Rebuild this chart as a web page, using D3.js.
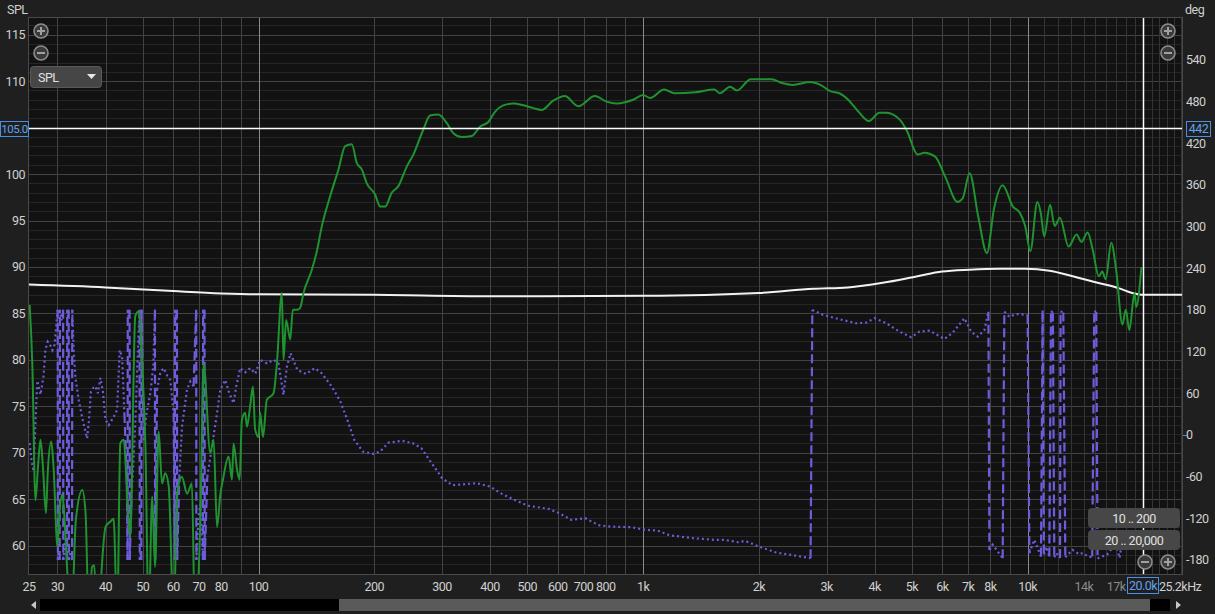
<!DOCTYPE html>
<html><head><meta charset="utf-8">
<script src="https://cdn.jsdelivr.net/npm/d3@7"></script>
<style>
html,body{margin:0;padding:0;background:#1f1f1f;overflow:hidden}
svg{display:block}
</style></head><body>
<svg id="c" width="1215" height="614"></svg>
<script>
// ---------- data ----------
const splTicks = [60,65,70,75,80,85,90,95,100,110,115];
const degTicks = [-180,-120,-60,0,60,120,180,240,300,360,420,480,540];
const freqTickVals = [25.3,30,40,50,60,70,80,100,200,300,400,500,600,700,800,1000,2000,3000,4000,5000,6000,7000,8000,10000,14000,17000];
const freqTickLabels = ["25","30","40","50","60","70","80","100","200","300","400","500","600","700","800","1k","2k","3k","4k","5k","6k","7k","8k","10k","14k","17k"];
const dimLabels = ["14k","17k"];

const splFreq = [25.4,25.8,26.3,26.7,27.1,27.5,28.0,28.3,28.9,29.3,30.0,30.4,30.9,31.3,31.8,32.5,33.5,34.8,35.5,36.2,36.9,37.4,38.0,40.0,41.2,42.0,42.9,43.7,44.6,45.7,46.4,47.8,48.8,49.8,50.8,51.8,52.9,53.8,55.0,56.1,57.2,58.4,60.2,61.4,63.2,65.2,67.1,68.3,70.5,72.0,74.9,76.4,78.0,79.6,80.8,83.6,85.3,86.1,87.9,89.3,90.5,92.3,93.3,95.1,96.7,98.0,100,101,102.7,105.1,109.4,111.6,115.0,116.1,118.0,120.9,122.8,125.8,128.3,130.9,137.6,141.8,146.1,153.5,161.4,168.0,174.8,180.1,185.6,191.2,201.0,207.1,213.4,222.1,231.0,242.9,252.7,268.3,279.2,293.5,308.6,321.0,337.5,358.4,376.6,395.8,411.9,432.9,459.6,487.9,518.0,544.6,583.8,626.1,678.0,749.2,803.5,853.0,942.0,1000,1043,1134,1207,1367,1532,1582,1684,1754,1906,2160,2299,2448,2716,2889,3077,3240,3414,3634,3867,4115,4291,4663,4859,5174,5392,5741,6108,6571,6779,7065,7441,7839,8170,8608,9159,9550,9852,10163,10597,10821,11042,11439,11758,12130,12778,13403,13793,14323,14775,15306,15630,15961,16496,16986,17640,18002,18383,18963,19157,19762];
const splDb = [85.9,79.7,64.9,68.5,71.4,68.5,63.5,67.8,71.2,68.5,59.9,63.8,65.5,62.8,57.4,50,62.8,66.0,63.5,52,57.7,57.9,52,62.0,62.6,62.9,52,71.0,71.4,64.2,61.0,84.7,85.2,79.6,70.7,52,65.3,57.7,72.3,66.7,67.8,66.4,52,65.6,67.4,65.6,66.7,52,62,79.6,70.0,71.4,62.0,65.6,67.1,69.6,67.1,71.0,68.2,67.1,73.5,74.3,72.8,75.0,77.1,72.5,71.7,74.3,71.7,75.7,76.4,79.6,87.2,80.0,84.3,82.2,85.4,85.4,85.6,87.2,89.7,91.7,94.4,97.6,100.5,103.0,103.2,101.2,100.5,99.0,97.8,96.5,96.5,98.0,98.7,100.8,102.1,104.8,106.3,106.4,105.5,104.4,104.0,104.1,105.1,105.6,106.7,107.4,107.6,107.4,107.1,106.9,107.9,108.4,107.3,108.4,107.8,107.6,108.0,108.5,108.2,109.1,108.7,108.8,109.1,108.7,109.4,109.0,110.2,110.2,109.8,109.6,109.9,109.6,108.9,108.7,108.0,106.7,105.7,106.6,106.6,105.8,104.6,102.1,102.3,101.9,99.7,97.0,97.4,100.1,95.4,91.5,96.2,98.8,96.5,95.8,94.4,91.7,97.0,95.8,93.3,96.7,94.4,95.3,92.2,93.5,92.7,93.7,91.8,89.0,89.5,88.7,92.6,89.7,83.8,85.4,83.2,87.2,85.7,90.0];

const refFreq = [25.3,40,60,80,100,200,400,1000,2000,2770,3410,4200,5170,5990,7060,8500,9850,11400,13100,15200,17300,18700,20000,25200];
const refDb = [88.1,87.8,87.4,87.15,87.05,87.0,86.85,86.9,87.2,87.65,87.8,88.3,89.0,89.5,89.7,89.8,89.8,89.6,89.0,88.3,87.7,87.2,87.0,87.0];

const phaseFreq = [25.4,25.7,26.0,26.2,26.4,26.6,26.9,27.1,27.3,27.6,27.9,28.3,28.8,29.1,29.5,29.7,30.04,30.08,30.24,30.40,30.44,30.73,31.03,31.07,31.42,31.77,31.81,31.95,32.08,32.12,32.43,32.74,32.78,33.07,33.41,34.08,34.78,35.47,35.83,36.22,36.66,37.21,37.66,38.22,38.80,39.39,39.98,40.77,42.01,42.87,43.55,44.18,44.79,45.46,45.66,45.71,45.96,46.20,46.26,46.71,47.27,47.83,48.41,49.05,49.11,49.35,49.58,49.64,50.27,51.09,52.32,53.27,53.78,53.84,54.46,55.55,56.66,57.92,58.97,60.15,60.58,60.65,61.05,61.35,61.42,62.24,63.25,65.17,66.47,67.79,68.85,68.93,69.72,70.56,71.67,71.76,72.06,72.36,72.45,73.58,75.68,77.97,79.53,81.94,83.93,86.11,87.51,89.63,92.35,95.16,98.05,101.0,105.2,109.4,112.7,116.1,118.5,121.1,126.2,132.9,140.0,145.9,155.1,163.3,170.2,177.4,186.8,198.7,207.1,218.0,236.8,251.9,265.2,282.1,300.2,319.3,369.0,400.5,426.2,462.9,502.7,569.0,605.1,650.5,706.5,767.3,824.3,933.0,1013,1089,1171,1352,1530,1628,1768,1842,2000,2219,2457,2726,2755,2939,3242,3584,3804,4000,4288,4644,4980,5233,5556,6075,6385,6848,7129,7416,7719,7906,7953,8111,8610,8698,8962,9329,10000,10102,10409,10834,10939,11023,11183,11385,11500,11630,11730,11870,12140,12180,12380,12530,13090,13620,13900,14460,14720,14900,15080,15200,16110,16930,17340,17570];
const phaseDeg = [-12,-38,-52,-5,40,78,66,58,68,85,122,134,128,122,130,150,180,-180,-168,-180,180,165,180,-180,-150,-180,180,170,180,-180,-168,-180,180,120,82,50,25,5,-5,20,62,68,70,60,82,62,22,14,26,36,122,112,30,-60,-180,180,170,180,-180,-90,-40,20,100,180,-180,-170,-180,180,-7,30,60,100,180,-180,65,90,96,85,79,31,-180,180,165,180,-180,-60,12,65,77,70,180,-180,-120,-100,-180,180,170,180,-180,-60,-17,31,65,79,60,45.6,70,96,90,96,88,108,103,108,103,57.5,98,117.5,93.5,87.8,96,88.8,69.5,47.9,21.6,-7.2,-24,-27.3,-24,-11,-8.6,-12,-19.2,-40.8,-62.4,-72.4,-69.5,-74.4,-84,-93.5,-102,-106.5,-112.7,-122.3,-119.9,-130,-132,-132.8,-136.7,-137.6,-144.4,-148.7,-151,-151,-154.5,-152.5,-160.7,-169.3,-173.2,-177.5,179.9,172.7,166.5,160.7,161.6,167.9,160.7,148.6,140.6,148.6,150.1,138.1,147.2,167.9,148.6,141.4,151,177.4,-165.5,-158,-177.4,177.4,170,174,172.7,-170,-151,-175,179,-172,-161,-175,178,176,-176,-170,-177,178,176,-176,-165.5,-172,-170,-176,-175,178,177,-178,-172,-156,-177,-158];

const cursorSpl = 105.0, cursorDeg = 442, cursorFreq = 20000;

// ---------- layout ----------
const FONT = "Roboto, 'Liberation Sans', sans-serif";
const W=1215,H=614, L=29,R=1182,T=18,B=574;
const x = d3.scaleLog().domain([25.3,25200]).range([L,R]);
const yS = d3.scaleLinear().domain([56.95,116.8]).range([B,T]);
const yP = d3.scaleLinear().domain([-200.2,600]).range([B,T]);
const svg = d3.select("#c");
svg.append("rect").attr("width",W).attr("height",H).attr("fill","#1f1f1f");
svg.append("rect").attr("x",L).attr("y",T).attr("width",R-L).attr("height",B-T).attr("fill","#121212");
svg.append("clipPath").attr("id","clip").append("rect").attr("x",L).attr("y",T).attr("width",R-L).attr("height",B-T);
const grid = svg.append("g");
const cr = v => Math.round(v)+0.5;

d3.range(57,117).forEach(v=>{
  const major = v%5===0;
  grid.append("line").attr("x1",L).attr("x2",R).attr("y1",cr(yS(v))).attr("y2",cr(yS(v)))
    .attr("stroke", major?"#434343":"#262626").attr("stroke-width",1);
});
const gridFreqs = [].concat(d3.range(30,100,10), d3.range(100,1000,100), d3.range(1000,10000,1000), d3.range(10000,25001,1000));
gridFreqs.forEach(f=>{
  const dec = (f===100||f===1000||f===10000);
  const minor = f>10000;
  grid.append("line").attr("y1",T).attr("y2",B).attr("x1",cr(x(f))).attr("x2",cr(x(f)))
    .attr("stroke", dec?"#8a8a8a":(minor?"#343434":"#434343")).attr("stroke-width",1);
});
svg.append("rect").attr("x",L-0.5).attr("y",T-0.5).attr("width",R-L+1).attr("height",B-T+1)
  .attr("fill","none").attr("stroke","#4a4a4a");

// ---------- curves ----------
const plot = svg.append("g").attr("clip-path","url(#clip)");

const pts = phaseFreq.map((f,i)=>[x(f), yP(phaseDeg[i])]);
let run = [pts[0]];
const runs = [], steep = [];
for (let i=1;i<pts.length;i++){
  const a=pts[i-1], b=pts[i];
  const dx=Math.abs(b[0]-a[0]), dy=Math.abs(b[1]-a[1]);
  if (dy>60 && dy>4*dx){ if(run.length>1) runs.push(run); steep.push([a,b]); run=[b]; }
  else run.push(b);
}
if(run.length>1) runs.push(run);
const pcol="#6d5ddd";
runs.forEach(r=>plot.append("path").attr("d",d3.line()(r)).attr("fill","none")
  .attr("stroke",pcol).attr("stroke-width",2.2).attr("stroke-dasharray","2,3"));
steep.forEach(s=>plot.append("path").attr("d",d3.line()(s)).attr("fill","none")
  .attr("stroke",pcol).attr("stroke-width",2.2).attr("stroke-dasharray","9,4"));

plot.append("path").datum(refFreq.map((f,i)=>[f,refDb[i]]))
  .attr("d",d3.line().x(d=>x(d[0])).y(d=>yS(d[1])).curve(d3.curveMonotoneX))
  .attr("fill","none").attr("stroke","#f2f2f2").attr("stroke-width",2);

plot.append("path").datum(splFreq.map((f,i)=>[f,splDb[i]]))
  .attr("d",d3.line().x(d=>x(d[0])).y(d=>yS(d[1])).curve(d3.curveMonotoneX))
  .attr("fill","none").attr("stroke","#1f9330").attr("stroke-width",2).attr("stroke-linejoin","round");

svg.append("line").attr("x1",L).attr("x2",R).attr("y1",cr(yS(cursorSpl))).attr("y2",cr(yS(cursorSpl)))
  .attr("stroke","#ffffff").attr("stroke-width",1.5);
svg.append("line").attr("y1",T).attr("y2",B).attr("x1",cr(x(cursorFreq))).attr("x2",cr(x(cursorFreq)))
  .attr("stroke","#ffffff").attr("stroke-width",1.5);

// ---------- axes text ----------
const FS=12.5;
const tcol="#d0d0d0";
const txt=(px,py,s,anchor,col,size)=>svg.append("text").attr("x",px).attr("y",py).text(s)
  .attr("font-family",FONT).attr("letter-spacing","-0.5px")
  .attr("text-anchor",anchor||"start").attr("fill",col||tcol).attr("font-size",size||FS);
txt(7,14,"SPL");
txt(1185,14,"deg");
splTicks.forEach(v=>txt(25,yS(v)+4.5,String(v),"end"));
degTicks.forEach(v=>txt(1186,yP(v)+4.5,String(v),"start"));
svg.append("line").attr("x1",1183).attr("x2",1187).attr("y1",cr(yP(0))).attr("y2",cr(yP(0))).attr("stroke","#4a8fe0");
freqTickVals.forEach((f,i)=>{
  const lab=freqTickLabels[i];
  txt(x(f),591,lab,"middle",dimLabels.includes(lab)?"#8a8a8a":tcol);
});
txt(1159,591,"25.2kHz","start");

function box(x0,cy,w,h,s,size){
  svg.append("rect").attr("x",x0+0.5).attr("y",Math.round(cy-h/2)+0.5).attr("width",w).attr("height",h)
    .attr("fill","#1f1f1f").attr("stroke","#4a8fe0").attr("stroke-width",1);
  txt(x0+w/2+0.5,cy+4.5,s,"middle","#5ea3f0",size);
}
box(0,cr(yS(cursorSpl)),28,15,cursorSpl.toFixed(1),11.5);
box(1186,cr(yP(cursorDeg)),24,15,String(cursorDeg));
box(Math.round(x(cursorFreq))-16,585,31,16,(cursorFreq/1000).toFixed(1)+"k");

// ---------- widgets ----------
function zoomBtn(cx,cy,plus){
  svg.append("circle").attr("cx",cx).attr("cy",cy).attr("r",7).attr("fill","#3a3a3a")
    .attr("stroke","#8c8c8c").attr("stroke-width",1.6);
  svg.append("line").attr("x1",cx-4).attr("x2",cx+4).attr("y1",cy).attr("y2",cy).attr("stroke","#a0a0a0").attr("stroke-width",2);
  if(plus) svg.append("line").attr("y1",cy-4).attr("y2",cy+4).attr("x1",cx).attr("x2",cx).attr("stroke","#a0a0a0").attr("stroke-width",2);
}
zoomBtn(41,31,true); zoomBtn(41,53,false);
zoomBtn(1168,31,true); zoomBtn(1168,53,false);
zoomBtn(1145,562,false); zoomBtn(1168,562,true);

svg.append("rect").attr("x",30.5).attr("y",66.5).attr("width",71).attr("height",21).attr("rx",3)
  .attr("fill","#464646").attr("stroke","#5a5a5a");
txt(38,81.5,"SPL","start","#e0e0e0");
svg.append("path").attr("d","M87,74 L96,74 L91.5,79 Z").attr("fill","#e8e8e8");

function rbtn(y0,s){
  svg.append("rect").attr("x",1088).attr("y",y0).attr("width",92).attr("height",20).attr("rx",4)
    .attr("fill","#474747");
  txt(1134,y0+14.5,s,"middle","#e0e0e0");
}
rbtn(508,"10 .. 200"); rbtn(530,"20 .. 20,000");

svg.append("rect").attr("x",40).attr("y",599).attr("width",1130).attr("height",12).attr("fill","#000");
svg.append("rect").attr("x",339).attr("y",599).attr("width",811).attr("height",12).attr("fill","#5a5a5a");
svg.append("path").attr("d","M31,605 L36,601 L36,609 Z").attr("fill","#c8c8c8");
svg.append("path").attr("d","M1181,605 L1176,601 L1176,609 Z").attr("fill","#c8c8c8");
</script>
</body></html>
